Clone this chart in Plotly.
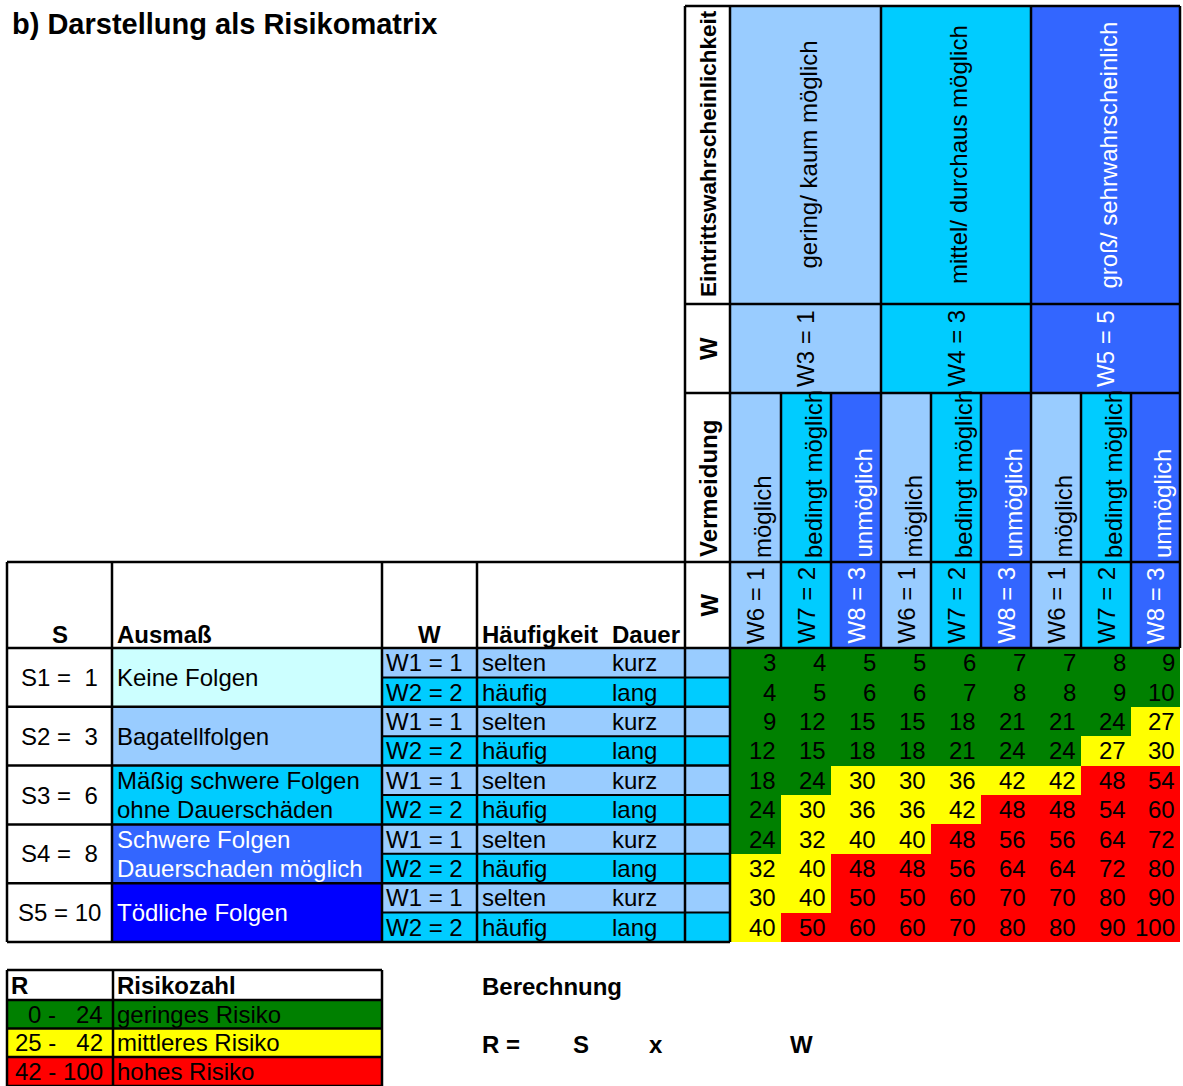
import plotly.graph_objects as go

# ---------------- data ----------------
TITLE = "b) Darstellung als Risikomatrix"
S_LABELS = ["S1 =  1", "S2 =  3", "S3 =  6", "S4 =  8", "S5 = 10"]
AUSMASS = [["Keine Folgen"], ["Bagatellfolgen"],
           ["Mäßig schwere Folgen", "ohne Dauerschäden"],
           ["Schwere Folgen", "Dauerschaden möglich"], ["Tödliche Folgen"]]
W_ROWS = ["W1 = 1", "W2 = 2"]
HAEUFIGKEIT = ["selten", "häufig"]
DAUER = ["kurz", "lang"]
EINTRITT = ["gering/ kaum möglich", "mittel/ durchaus möglich", "groß/ sehrwahrscheinlich"]
W_EINTRITT = ["W3 = 1", "W4 = 3", "W5 = 5"]
VERMEIDUNG = ["möglich", "bedingt möglich", "unmöglich"]
W_VERMEIDUNG = ["W6 = 1", "W7 = 2", "W8 = 3"]
RISK = [
    [3, 4, 5, 5, 6, 7, 7, 8, 9],
    [4, 5, 6, 6, 7, 8, 8, 9, 10],
    [9, 12, 15, 15, 18, 21, 21, 24, 27],
    [12, 15, 18, 18, 21, 24, 24, 27, 30],
    [18, 24, 30, 30, 36, 42, 42, 48, 54],
    [24, 30, 36, 36, 42, 48, 48, 54, 60],
    [24, 32, 40, 40, 48, 56, 56, 64, 72],
    [32, 40, 48, 48, 56, 64, 64, 72, 80],
    [30, 40, 50, 50, 60, 70, 70, 80, 90],
    [40, 50, 60, 60, 70, 80, 80, 90, 100],
]
LEGEND_HEAD = ["R", "Risikozahl"]
LEGEND_RANGES = ["0 -   24", "25 -   42", "42 - 100"]
LEGEND_LABELS = ["geringes Risiko", "mittleres Risiko", "hohes Risiko"]
LEGEND_UPPER = [24, 42, 100]
HEADER_LEFT = ["S", "Ausmaß", "W", "Häufigkeit", "Dauer"]
HEADER_LABELS = ["Eintrittswahrscheinlichkeit", "W", "Vermeidung", "W"]
CALC = ["Berechnung", "R =", "S", "x", "W"]

# ---------------- styling / layout constants ----------------
FONT = "Liberation Sans, Arial, sans-serif"
FS = 24
LB, CY, BL, DB, LC = "#99CCFF", "#00CCFF", "#3366FF", "#0000FF", "#CCFFFF"
RISK_COLORS = ["#008000", "#FFFF00", "#FF0000"]
GROUP_COLORS = [LB, CY, BL]
AUSMASS_COLORS = [LC, LB, CY, BL, DB]
AUSMASS_TEXT = ["black", "black", "black", "white", "white"]
GROUP_TEXT = ["black", "black", "white"]

COLS = [730, 781, 831, 881, 931, 981, 1031, 1081, 1131, 1180]
ROW0, RH = 648, 29.4
ROWS = [ROW0 + RH * i for i in range(11)]
HY = [6, 304, 393, 562, 648]
LX = [7, 112, 382, 477, 685, 730]
LW = 2.5

shapes, ann = [], []


def rect(x0, y0, x1, y1, fill):
    shapes.append(dict(type="rect", xref="x", yref="y", x0=x0, y0=y0, x1=x1, y1=y1,
                       fillcolor=fill, line=dict(width=0), layer="below"))


def line(x0, y0, x1, y1, w=LW):
    shapes.append(dict(type="line", xref="x", yref="y", x0=x0, y0=y0, x1=x1, y1=y1,
                       line=dict(color="black", width=w)))


def txt(x, y, s, color="black", bold=False, xa="left", ya="middle", angle=0, size=FS):
    s = s.replace(" ", "\u00a0")
    if bold:
        s = "<b>" + s + "</b>"
    ann.append(dict(x=x, y=y, xref="x", yref="y", text=s, showarrow=False,
                    font=dict(family=FONT, size=size, color=color),
                    xanchor=xa, yanchor=ya, textangle=angle, borderpad=0))


# title
txt(11, 24, TITLE, bold=True, size=29)

# ---------------- header block (top right) ----------------
for g in range(3):
    x0, x1 = COLS[3 * g], COLS[3 * g + 3]
    rect(x0, HY[0], x1, HY[2], GROUP_COLORS[g])
    cx = (x0 + x1) / 2
    txt(cx + 2, (HY[0] + HY[1]) / 2, EINTRITT[g], color=GROUP_TEXT[g], xa="center", angle=-90)
    txt(cx, HY[2] - 5, W_EINTRITT[g], color=GROUP_TEXT[g], xa="center", ya="bottom", angle=-90)
    for k in range(3):
        c = 3 * g + k
        rect(COLS[c], HY[2], COLS[c + 1], HY[4], GROUP_COLORS[k])
        ccx = (COLS[c] + COLS[c + 1]) / 2
        txt(ccx + 7, HY[3] - 3, VERMEIDUNG[k], color=GROUP_TEXT[k], xa="center", ya="bottom", angle=-90)
        txt(ccx, HY[4] - 3, W_VERMEIDUNG[k], color=GROUP_TEXT[k], xa="center", ya="bottom", angle=-90)

lx = (LX[4] + LX[5]) / 2
txt(lx + 1, HY[1] - 6, HEADER_LABELS[0], bold=True, xa="center", ya="bottom", angle=-90, size=22.5)
txt(lx + 1, (HY[1] + HY[2]) / 2, HEADER_LABELS[1], bold=True, xa="center", angle=-90)
txt(lx + 1, HY[3] - 4, HEADER_LABELS[2], bold=True, xa="center", ya="bottom", angle=-90)
txt(lx + 1, (HY[3] + HY[4]) / 2, HEADER_LABELS[3], bold=True, xa="center", angle=-90)

# ---------------- left table ----------------
hy = 634
txt((LX[0] + LX[1]) / 2, hy, HEADER_LEFT[0], bold=True, xa="center")
txt(116, hy, HEADER_LEFT[1], bold=True)
txt((LX[2] + LX[3]) / 2, hy, HEADER_LEFT[2], bold=True, xa="center")
txt(481, hy, HEADER_LEFT[3], bold=True)
txt(611, hy, HEADER_LEFT[4], bold=True)

for gi in range(5):
    y0, y1 = ROWS[2 * gi], ROWS[2 * gi + 2]
    rect(LX[1], y0, LX[2], y1, AUSMASS_COLORS[gi])
    txt((LX[0] + LX[1]) / 2, (y0 + y1) / 2, S_LABELS[gi], xa="center")
    lines_ = AUSMASS[gi]
    if len(lines_) == 1:
        txt(116, (y0 + y1) / 2, lines_[0], color=AUSMASS_TEXT[gi])
    else:
        for j, l in enumerate(lines_):
            txt(116, (ROWS[2 * gi + j] + ROWS[2 * gi + j + 1]) / 2, l, color=AUSMASS_TEXT[gi])
    for j in range(2):
        r0, r1 = ROWS[2 * gi + j], ROWS[2 * gi + j + 1]
        rect(LX[2], r0, LX[5], r1, GROUP_COLORS[j])
        cy = (r0 + r1) / 2
        txt(385, cy, W_ROWS[j])
        txt(481, cy, HAEUFIGKEIT[j])
        txt(611, cy, DAUER[j])

# ---------------- risk matrix (heatmap) ----------------
cat = [[next(i for i, u in enumerate(LEGEND_UPPER) if v <= u) for v in row] for row in RISK]
cs = [[0, RISK_COLORS[0]], [1 / 3, RISK_COLORS[0]], [1 / 3, RISK_COLORS[1]],
      [2 / 3, RISK_COLORS[1]], [2 / 3, RISK_COLORS[2]], [1, RISK_COLORS[2]]]
heat = go.Heatmap(x=COLS, y=ROWS, z=cat, zmin=0, zmax=2, colorscale=cs,
                  showscale=False, hoverinfo="skip", xgap=0, ygap=0)
for r, row in enumerate(RISK):
    for c, v in enumerate(row):
        txt(COLS[c + 1] - 4, (ROWS[r] + ROWS[r + 1]) / 2, str(v), xa="right")

# ---------------- grid lines ----------------
line(LX[4], HY[0], COLS[-1], HY[0])
for y in HY[1:4]:
    line(LX[4], y, COLS[-1], y)
line(LX[0], HY[3], LX[4], HY[3])
line(LX[0], HY[4], COLS[-1], HY[4])
line(LX[4], HY[0], LX[4], ROWS[-1])
line(LX[5], HY[0], LX[5], ROWS[-1])
for c in (3, 6, 9):
    line(COLS[c], HY[0], COLS[c], HY[4])
for c in (1, 2, 4, 5, 7, 8):
    line(COLS[c], HY[2], COLS[c], HY[4])
for x in LX[:4]:
    line(x, HY[3], x, ROWS[-1])
for i in range(1, 11):
    if i % 2 == 0:
        line(LX[0], ROWS[i], LX[5], ROWS[i])
    else:
        line(LX[2], ROWS[i], LX[5], ROWS[i], w=2)

# ---------------- legend table ----------------
LEG_Y = [970, 1000, 1028.5, 1057, 1086]
LEG_X = [7, 113, 382]
for i in range(3):
    rect(LEG_X[0], LEG_Y[i + 1], LEG_X[2], LEG_Y[i + 2], RISK_COLORS[i])
    cy = (LEG_Y[i + 1] + LEG_Y[i + 2]) / 2
    txt(104, cy, LEGEND_RANGES[i], xa="right")
    txt(116, cy, LEGEND_LABELS[i])
txt(10, (LEG_Y[0] + LEG_Y[1]) / 2, LEGEND_HEAD[0], bold=True)
txt(116, (LEG_Y[0] + LEG_Y[1]) / 2, LEGEND_HEAD[1], bold=True)
for y in LEG_Y:
    line(LEG_X[0], y, LEG_X[2], y)
for x in LEG_X:
    line(x, LEG_Y[0], x, LEG_Y[-1])

# ---------------- calculation ----------------
txt(481, 986, CALC[0], bold=True)
txt(481, 1044, CALC[1], bold=True)
txt(581, 1044, CALC[2], bold=True, xa="center")
txt(656, 1044, CALC[3], bold=True, xa="center")
txt(801, 1044, CALC[4], bold=True, xa="center")

fig = go.Figure(heat)
fig.update_layout(
    width=1183, height=1086, margin=dict(l=0, r=0, t=0, b=0),
    paper_bgcolor="white", plot_bgcolor="white", showlegend=False,
    xaxis=dict(range=[0, 1183], visible=False, fixedrange=True),
    yaxis=dict(range=[1086, 0], visible=False, fixedrange=True),
    shapes=shapes, annotations=ann,
)
fig.write_html("out.html", config={"displayModeBar": False, "staticPlot": True},
               post_script="document.body.style.margin='0';")
